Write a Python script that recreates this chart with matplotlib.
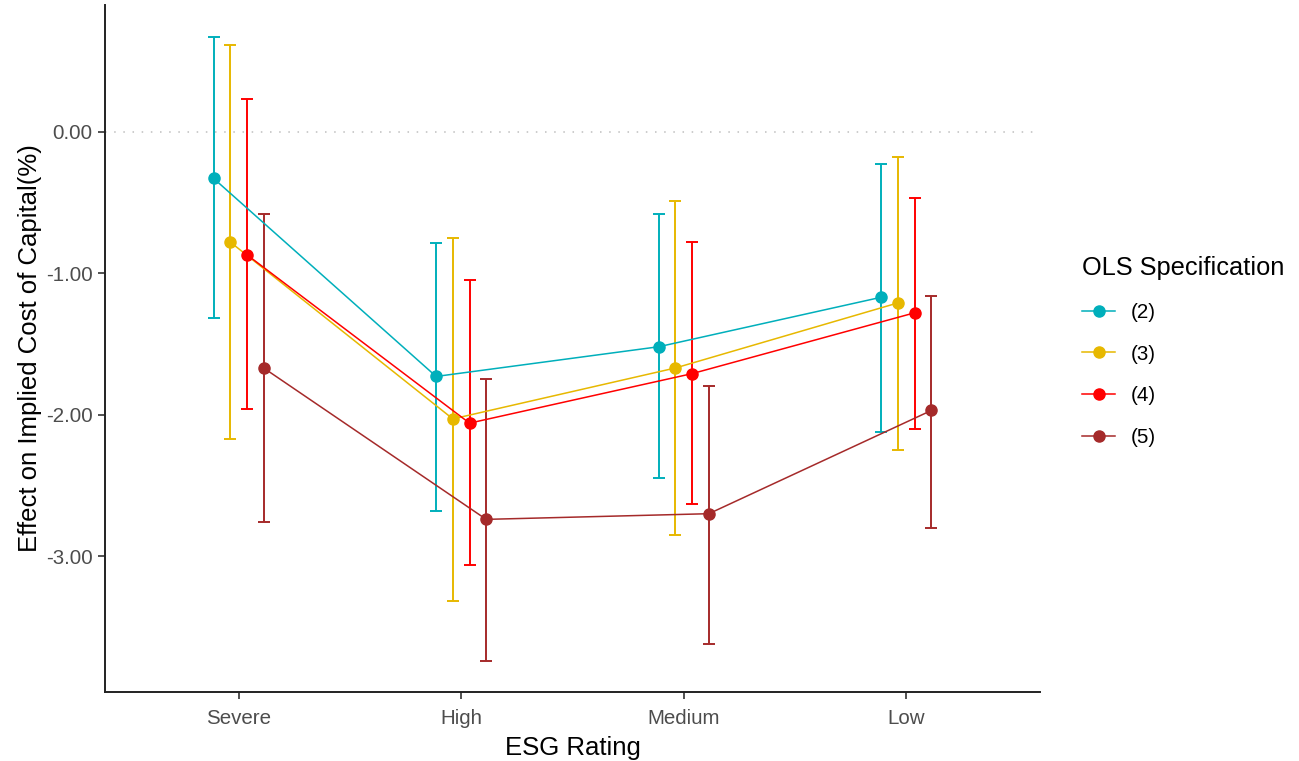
import matplotlib
matplotlib.use("Agg")
import matplotlib.pyplot as plt
from matplotlib.lines import Line2D

plt.rcParams['font.family'] = ['Liberation Sans', 'DejaVu Sans']

categories = ["Severe", "High", "Medium", "Low"]
series = ["(2)", "(3)", "(4)", "(5)"]

est2 = [-0.33, -1.73, -1.52, -1.17]
lo2 = [-1.32, -2.68, -2.45, -2.12]
hi2 = [0.67, -0.79, -0.58, -0.23]

est3 = [-0.78, -2.03, -1.67, -1.21]
lo3 = [-2.17, -3.32, -2.85, -2.25]
hi3 = [0.61, -0.75, -0.49, -0.18]

est4 = [-0.87, -2.06, -1.71, -1.28]
lo4 = [-1.96, -3.06, -2.63, -2.10]
hi4 = [0.23, -1.05, -0.78, -0.47]

est5 = [-1.67, -2.74, -2.70, -1.97]
lo5 = [-2.76, -3.74, -3.62, -2.80]
hi5 = [-0.58, -1.75, -1.80, -1.16]

yticks = [0.0, -1.0, -2.0, -3.0]
ytick_labels = ["0.00", "-1.00", "-2.00", "-3.00"]

colors = ["#00AFBB", "#E7B800", "#FF0000", "#A52A2A"]
estimates = [est2, est3, est4, est5]
lowers = [lo2, lo3, lo4, lo5]
uppers = [hi2, hi3, hi4, hi5]

W, H = 1299, 761
fig = plt.figure(figsize=(W / 100, H / 100), dpi=100)
ax = fig.add_axes([105 / W, 1 - 692 / H, (1040 - 105) / W, (692 - 5) / H])

dodge = 0.3
n = len(series)
offsets = [(-dodge / 2 + dodge / n * (j + 0.5)) for j in range(n)]

ax.axhline(0, color="#BEBEBE", lw=1.1, linestyle=(0, (1, 5)), zorder=1)

handles = []
for j in range(n):
    xs = [i + 1 + offsets[j] for i in range(len(categories))]
    est = estimates[j]
    yerr = [[e - l for e, l in zip(est, lowers[j])], [u - e for e, u in zip(est, uppers[j])]]
    ax.errorbar(xs, est, yerr=yerr, fmt="none", ecolor=colors[j], elinewidth=1.4,
                capsize=4.2, capthick=1.4, zorder=2)
    ax.plot(xs, est, color=colors[j], lw=1.1, zorder=3)
    ax.plot(xs, est, linestyle="none", marker="o", markersize=8, color=colors[j], zorder=4)
    handles.append(Line2D([0], [0], color=colors[j], lw=1.1, marker="o", markersize=8))

ax.set_xlim(0.4, 4.6)
ax.set_ylim(-3.96, 0.895)
ax.set_xticks(range(1, len(categories) + 1))
ax.set_xticklabels(categories)
ax.set_yticks(yticks)
ax.set_yticklabels(ytick_labels)

for s in ["top", "right"]:
    ax.spines[s].set_visible(False)
for s in ["left", "bottom"]:
    ax.spines[s].set_linewidth(1.4)
    ax.spines[s].set_color("#222222")
ax.tick_params(axis="both", which="major", length=5, width=1.2, color="#333333",
               labelsize=14.8, labelcolor="#4D4D4D")
ax.tick_params(axis="x", pad=7)
ax.tick_params(axis="y", pad=4)

ax.set_xlabel("ESG Rating", fontsize=18.5, color="black", labelpad=6)
ax.set_ylabel("Effect on Implied Cost of Capital(%)", fontsize=18.5, color="black", labelpad=3)

leg = fig.legend(handles, series, title="OLS Specification", loc="upper left",
                 bbox_to_anchor=(1072 / W, 1 - 246 / H), frameon=False,
                 fontsize=14.8, title_fontsize=18.3, handlelength=1.6,
                 labelspacing=1.1, borderpad=0, handletextpad=0.75,
                 alignment="left")

fig.savefig("out.png", dpi=100)
